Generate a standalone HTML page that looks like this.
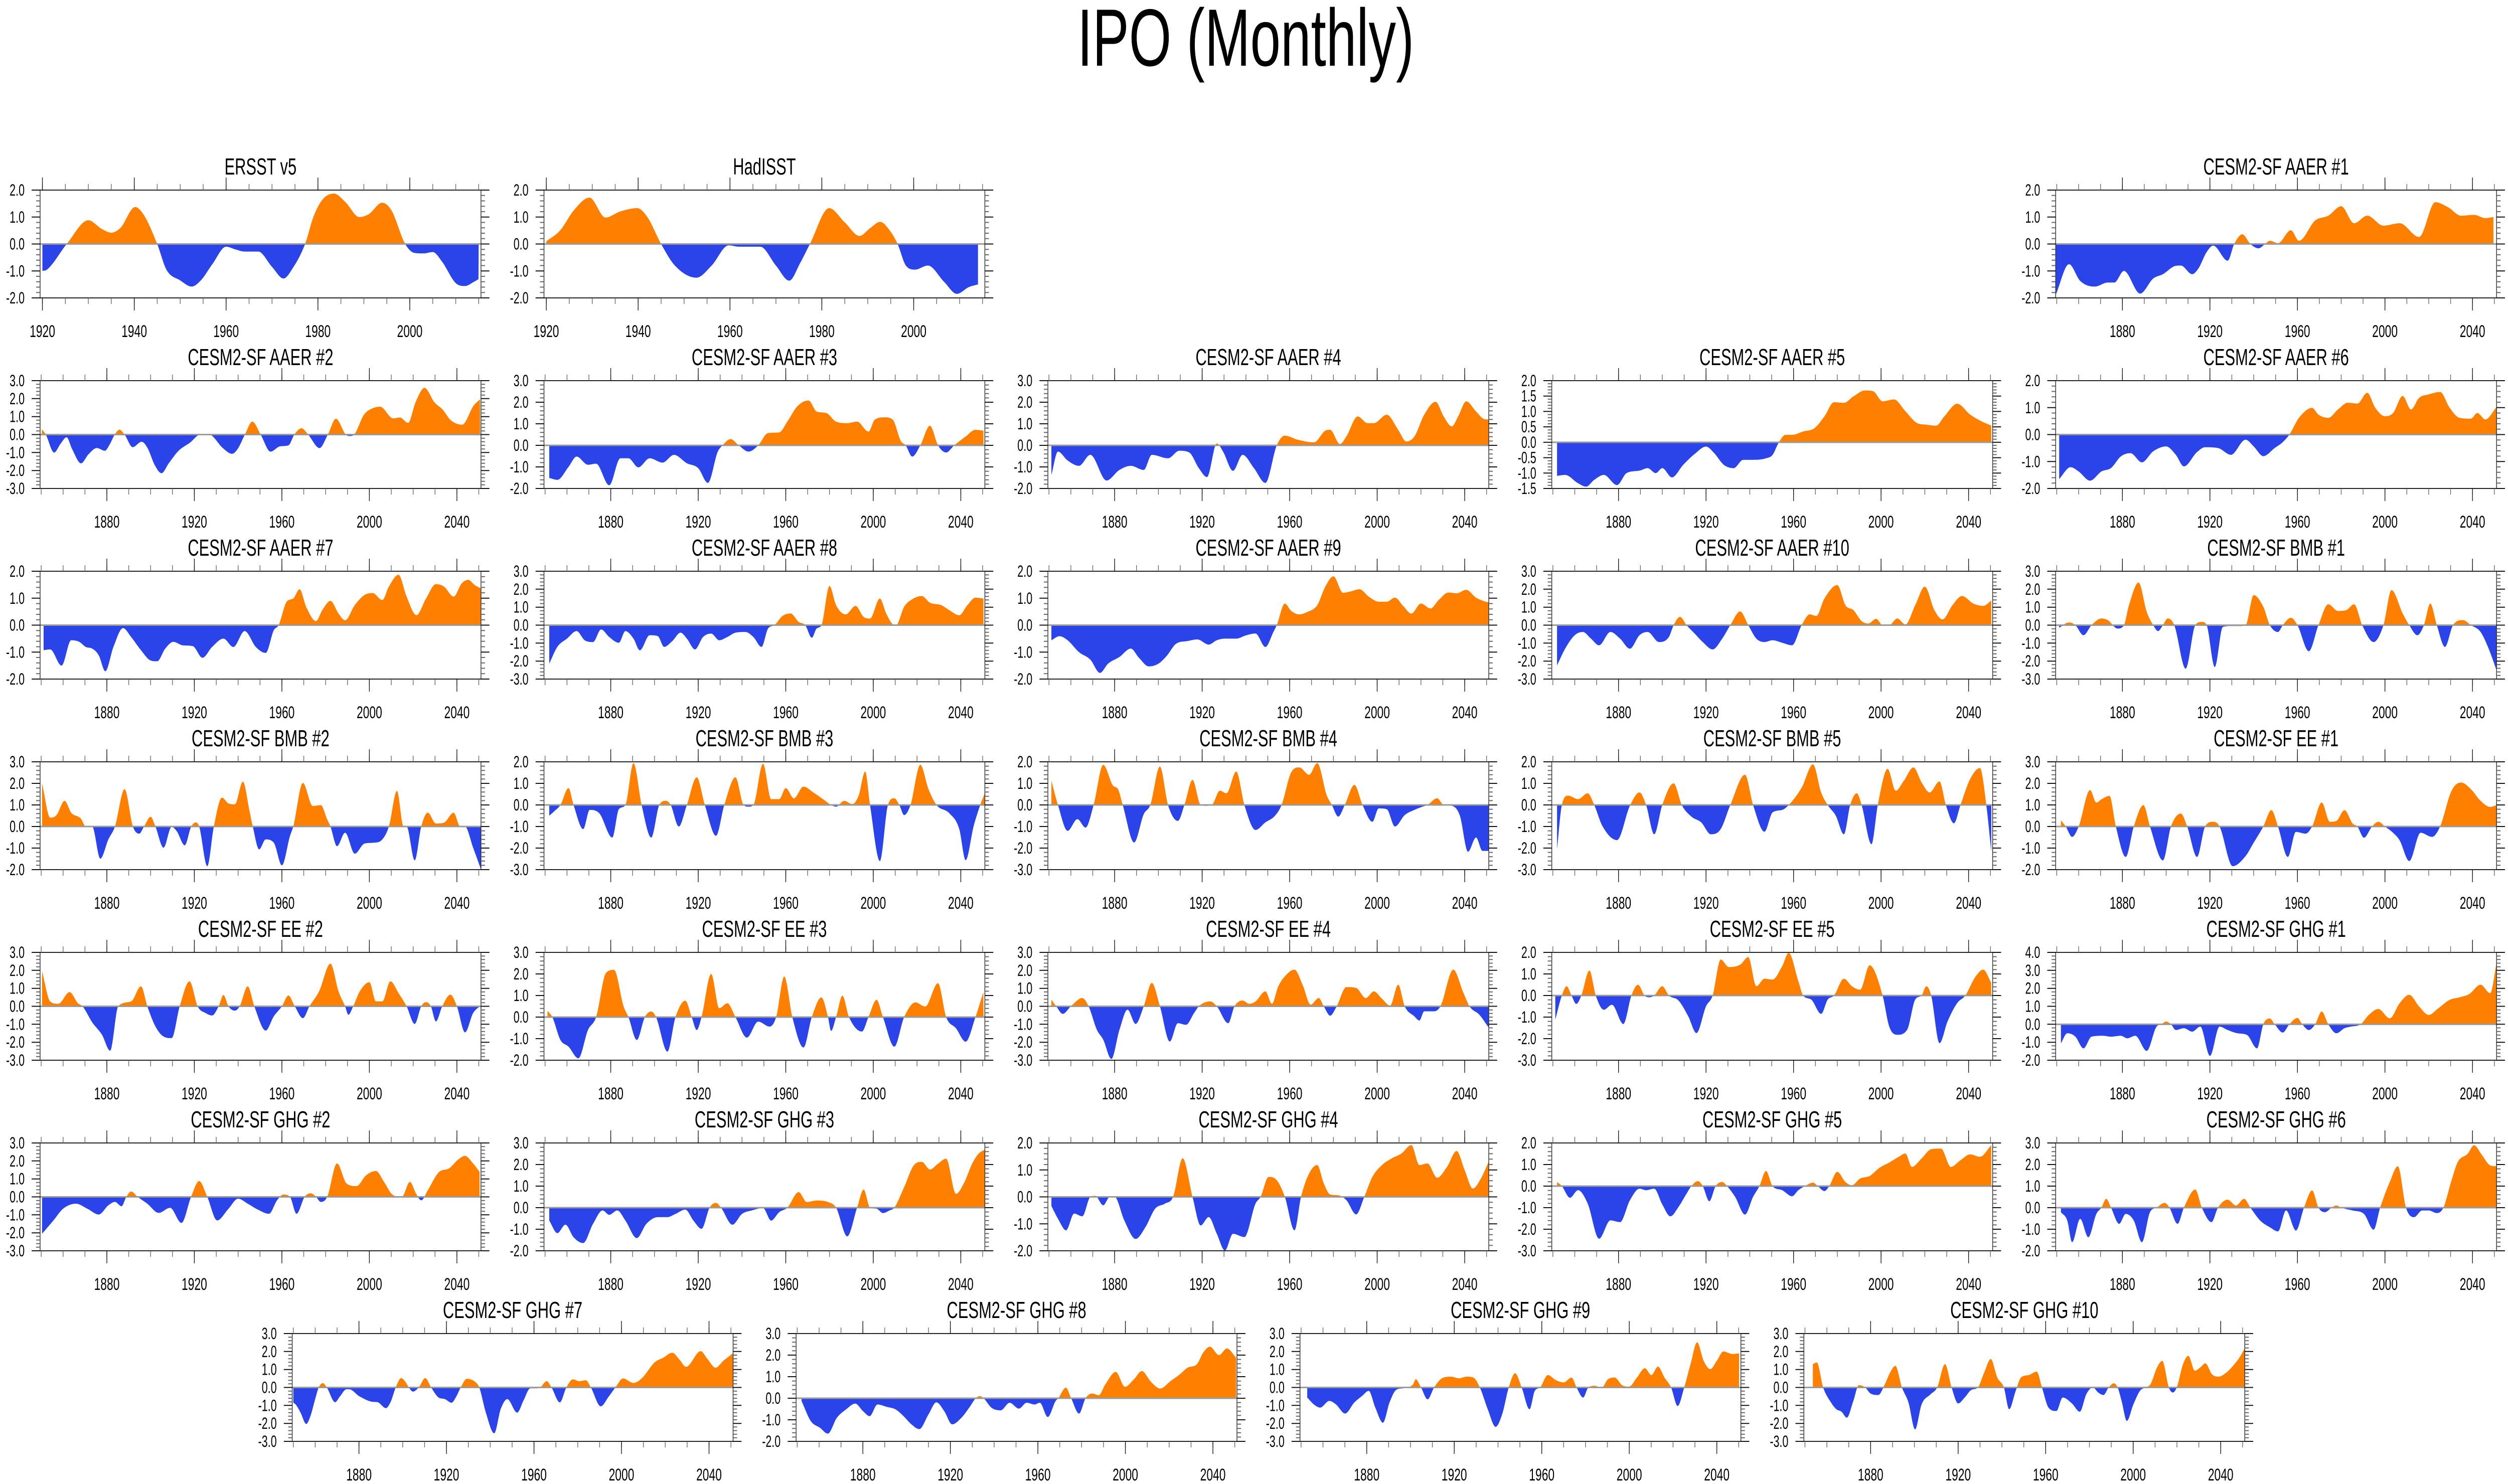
<!DOCTYPE html>
<html>
<head>
<meta charset="utf-8">
<title>IPO (Monthly)</title>
<style>
  html, body { margin: 0; padding: 0; background: #ffffff; overflow: hidden; width: 100%; height: 100%; }
  svg { display: block; width: 100vw; height: 100vh; }
  text { font-family: "Liberation Sans", "DejaVu Sans", sans-serif; fill: #000; }
</style>
</head>
<body>
<svg id="chart" xmlns="http://www.w3.org/2000/svg" viewBox="0 0 7441 2959" preserveAspectRatio="none">
  <rect x="0" y="0" width="7441" height="2959" fill="#ffffff"/>
  <text x="3696" y="131" font-size="162" text-anchor="middle">IPO (Monthly)</text>
</svg>
<script>
// ---------- data (years = knot times, vals = IPO index values) ----------
const ersstYears = [1920,1921,1925.3,1930,1933,1935,1937,1940.2,1942,1945,1947,1950,1952.5,1954.5,1957,1960,1962,1964,1967,1970,1972.5,1974.5,1977.2,1979,1981,1983.5,1986,1989,1991,1994,1996,1999,2001,2003,2005,2007,2010,2012,2014,2015];
const ersstVals = [-1.0,-0.95,0,0.88,0.55,0.42,0.6,1.37,1.1,0,-0.95,-1.35,-1.58,-1.35,-0.75,-0.1,-0.2,-0.28,-0.28,-0.85,-1.28,-0.9,0,1.0,1.65,1.87,1.55,1.0,1.1,1.53,1.25,0,-0.33,-0.35,-0.3,-0.65,-1.45,-1.56,-1.4,-1.3];

const hadYears = [1920,1923,1926,1929.4,1932.9,1936,1939.8,1942,1945,1948,1952.7,1956,1959.7,1962,1966.6,1970,1972.9,1975.3,1977.4,1981.6,1985,1988.2,1990.6,1992.7,1994.8,1996.5,1998.3,2000.3,2003.1,2006.6,2009.4,2012,2014];
const hadVals = [0.1,0.5,1.25,1.72,0.98,1.2,1.33,1.0,0,-0.8,-1.25,-0.8,-0.05,-0.1,-0.1,-0.8,-1.36,-0.7,0,1.33,0.8,0.3,0.6,0.82,0.5,0,-0.8,-0.95,-0.8,-1.4,-1.85,-1.6,-1.5];

const aaer1Years = [1849.6,1855.6,1860.7,1867.4,1873.3,1876.3,1880.7,1888.1,1894.1,1898.5,1904.4,1906.7,1911.9,1914.8,1918.5,1921.5,1928.1,1931.1,1934.8,1938.5,1942.2,1945.2,1947.4,1951.1,1957,1960.7,1968.1,1974.1,1980,1985.9,1991.9,1999.3,2006.7,2015.6,2023,2028.9,2034.8,2040.7,2045.9,2049.6];
const aaer1Vals = [-1.87,-0.75,-1.37,-1.58,-1.43,-1.43,-1.0,-1.84,-1.28,-1.12,-0.81,-0.8,-1.12,-0.9,-0.3,-0.06,-0.62,0,0.36,0,-0.16,0,0.12,0.03,0.51,0.12,0.87,1.05,1.4,0.77,1.05,0.68,0.77,0.26,1.55,1.36,1.05,1.08,0.96,1.0];

const aaer2Years = [1850.3,1852.1,1855.9,1858.9,1861.6,1864.1,1868.2,1871.6,1875.4,1879.1,1881.3,1883.6,1885.8,1888.1,1891.8,1895.9,1898.6,1901.9,1905,1908.3,1912.8,1918,1922.5,1924.8,1927,1933,1937.2,1939.8,1943.1,1946.5,1950.3,1954.8,1959.3,1963,1965.7,1969,1972,1977.2,1981,1984.7,1989.2,1991,1993,1997.5,2000.4,2004.9,2010.9,2013.9,2017.7,2021.1,2025.2,2029.7,2033.4,2037.2,2042.4,2047.6,2050.6];
const aaer2Vals = [0.3,0,-1.0,-0.5,-0.15,-0.8,-1.6,-1.1,-0.75,-0.9,-0.55,0,0.27,0,-0.7,-0.4,-0.75,-1.7,-2.15,-1.6,-0.9,-0.45,0,0.02,0,-0.75,-1.07,-0.8,0,0.72,0,-0.95,-0.65,-0.6,0,0.35,0,-0.75,0,0.88,0,-0.08,0,1.1,1.4,1.55,0.9,0.95,0.65,1.8,2.6,1.8,1.4,0.8,0.55,1.6,1.97];

const aaer3Years = [1851.9,1855.6,1860.7,1864.4,1869.6,1873.3,1879.3,1884.4,1888.1,1892.6,1897.8,1903.7,1908.9,1914.8,1920,1924.4,1928.9,1931.1,1934.8,1938.5,1943,1947.4,1951.9,1957,1960.7,1965.2,1970.4,1974.1,1978.5,1983,1988.1,1992.6,1997.8,2000.7,2005.2,2008.9,2012.6,2014.8,2017.8,2021.5,2025.9,2029.6,2033.3,2037,2042.2,2046.7,2050.4];
const aaer3Vals = [-1.51,-1.6,-1.0,-0.52,-0.9,-0.85,-1.85,-0.6,-0.6,-1.02,-0.6,-0.8,-0.44,-0.83,-1.06,-1.74,-0.3,0,0.29,0,-0.29,0,0.57,0.6,1.1,1.8,2.08,1.57,1.5,1.1,1.03,1.1,0.64,1.19,1.3,1.19,0.2,0,-0.52,0,0.91,0,-0.33,0,0.41,0.72,0.68];

const aaer4Years = [1851.1,1854.1,1858.5,1863.7,1868.9,1876.3,1882.2,1887.4,1893.3,1897,1904.4,1909.6,1914.1,1918.5,1922.2,1926.7,1929.6,1934.1,1938.5,1943.7,1948.9,1954.1,1957.8,1963.7,1971.1,1976.3,1978.5,1983,1985.9,1991.1,1995.6,1998.5,2004.4,2009.6,2013.3,2017,2021.5,2026.7,2030.4,2034.1,2037,2040.7,2045.2,2048.9,2051];
const aaer4Vals = [-1.37,-0.29,-0.7,-0.95,-0.44,-1.63,-1.14,-0.95,-1.14,-0.44,-0.6,-0.25,-0.33,-1.06,-1.47,0.09,-0.3,-1.18,-0.44,-1.06,-1.74,0,0.45,0.26,0.14,0.68,0.72,0.06,0.41,1.34,1.03,1.03,1.42,0.72,0.18,0.41,1.42,2.02,1.34,0.88,1.34,2.04,1.57,1.22,1.2];

const aaer5Years = [1851.9,1855.6,1861.5,1865.2,1868.9,1873.3,1879.3,1883.7,1889.6,1893.3,1897,1900,1904.4,1909.6,1914.8,1920,1923.7,1928.1,1932.6,1937,1941.5,1947.4,1950.4,1953.3,1956.3,1959.3,1964.4,1969.6,1974.1,1978.5,1983,1987.4,1992.6,1996.3,2000.7,2005.9,2011.1,2016.3,2020.7,2025.2,2028.9,2034.8,2040.7,2045.9,2050.4];
const aaer5Vals = [-1.09,-1.06,-1.33,-1.44,-1.22,-1.06,-1.39,-1.0,-0.92,-0.84,-1.0,-0.84,-1.14,-0.73,-0.38,-0.14,-0.35,-0.73,-0.84,-0.57,-0.57,-0.52,-0.41,0,0.24,0.24,0.35,0.46,0.84,1.3,1.28,1.49,1.68,1.66,1.33,1.39,1.01,0.63,0.57,0.54,0.84,1.25,0.9,0.68,0.54];

const aaer6Years = [1851.1,1856.3,1860,1865.2,1870.4,1874.8,1879.3,1883.7,1888.9,1894.1,1900,1904.4,1908.1,1914.1,1917.8,1923.7,1929.6,1936.3,1940,1944.4,1949.6,1953.3,1956.3,1960.7,1966.7,1969.6,1974.1,1978.5,1983,1987.4,1991.9,1995.6,2000,2003.7,2008.1,2011.9,2015.6,2020,2025.2,2029.6,2034.1,2039.3,2042.2,2045.9,2051];
const aaer6Vals = [-1.65,-1.21,-1.37,-1.71,-1.37,-1.24,-0.81,-0.69,-1.03,-0.62,-0.44,-0.75,-1.18,-0.65,-0.47,-0.5,-0.75,-0.19,-0.44,-0.8,-0.5,-0.28,0,0.62,0.99,0.74,0.62,0.93,1.18,1.15,1.55,0.99,0.68,0.8,1.43,0.93,1.36,1.49,1.58,0.99,0.62,0.59,0.8,0.56,1.02];

const aaer7Years = [1851.1,1854.1,1859.3,1863.7,1867.4,1870.4,1873.3,1876.3,1879.3,1883,1887.4,1891.1,1895.6,1900,1903,1906.7,1910.4,1914.8,1919.3,1923.7,1928.1,1933.3,1937.8,1943,1948.1,1952.6,1956.3,1958.5,1962.2,1965.2,1968.1,1971.1,1975.6,1978.5,1982.2,1985.9,1988.9,1993.3,1997.8,2001.5,2005.9,2008.9,2013.3,2017,2021.5,2025.9,2030.4,2034.1,2038.5,2042.2,2045.2,2048.1,2051];
const aaer7Vals = [-0.93,-0.9,-1.5,-0.56,-0.62,-0.81,-0.87,-1.12,-1.71,-0.81,-0.11,-0.44,-0.93,-1.31,-1.34,-0.87,-0.62,-0.75,-0.78,-1.21,-0.81,-0.5,-0.81,-0.22,-0.81,-1.03,-0.19,0,0.87,0.99,1.33,0.68,0.15,0.56,0.9,0.43,0.18,0.74,1.12,1.19,0.93,1.43,1.87,1.06,0.37,0.99,1.52,1.43,1.06,1.55,1.68,1.49,1.36];

const aaer8Years = [1851.9,1855.6,1860,1864.4,1868.1,1871.9,1875.6,1879.3,1883.7,1886.7,1890.4,1893.3,1897.8,1901.5,1904.4,1908.1,1911.9,1914.8,1918.5,1922.2,1925.9,1929.6,1933.3,1937,1941.5,1945.2,1948.9,1951.9,1954.8,1958.5,1962.2,1965.9,1968.9,1971.9,1974.1,1976.3,1980,1983,1987.4,1991.9,1995.6,1998.5,2003,2005.9,2008.9,2010.4,2014.1,2017.8,2022.2,2025.9,2031.1,2034.8,2039.3,2043,2046.7,2050.4];
const aaer8Vals = [-2.14,-1.21,-0.75,-0.33,-0.84,-0.94,-0.24,-0.66,-0.98,-0.33,-0.75,-1.4,-0.56,-0.61,-1.21,-0.89,-0.42,-0.75,-1.35,-0.66,-0.47,-0.84,-0.66,-0.42,-0.38,-0.66,-1.21,-0.19,0,0.51,0.65,0.18,0,-0.7,-0.19,0,2.18,1.11,0.6,1.07,0.46,0.37,1.48,0.65,0.05,0,1.02,1.44,1.62,1.25,1.11,0.83,0.55,1.11,1.53,1.48];

const aaer9Years = [1851.1,1854.8,1858.5,1863.7,1868.9,1873.3,1877,1882.2,1887.4,1891.1,1895.6,1900,1903.7,1908.1,1913.3,1917.8,1923,1926.7,1930.4,1935.6,1940,1944.4,1948.9,1952.6,1954.1,1957.8,1960.7,1964.4,1968.1,1972.6,1976.3,1980,1984.4,1987.4,1991.9,1996.3,2000.7,2004.4,2008.1,2011.9,2015.6,2020,2024.4,2028.1,2032.6,2036.3,2040.7,2045.2,2049.6,2051];
const aaer9Vals = [-0.56,-0.41,-0.56,-1.0,-1.28,-1.77,-1.43,-1.18,-0.87,-1.21,-1.53,-1.43,-1.15,-0.69,-0.59,-0.53,-0.72,-0.56,-0.5,-0.5,-0.38,-0.31,-0.81,-0.25,0,0.8,0.53,0.4,0.49,0.74,1.43,1.81,1.2,1.24,1.33,1.05,0.87,0.87,1.02,0.71,0.43,0.8,0.62,0.93,1.21,1.18,1.31,1.02,0.87,0.85];

const aaer10Years = [1851.9,1855.6,1860,1863.7,1867.4,1871.1,1876.3,1880.7,1885.2,1889.6,1893.3,1898.5,1903,1905.2,1908.1,1911.1,1914.8,1918.5,1923,1927.4,1931.1,1935.6,1939.3,1943,1946.7,1950.4,1954.8,1959.3,1963.7,1967.4,1970.4,1974.1,1980,1983.7,1987.4,1991.1,1994.1,1997.8,2000.7,2003.7,2007.4,2011.1,2015.6,2020,2024.4,2028.1,2032.6,2037,2042.2,2046.7,2050.4];
const aaer10Vals = [-2.24,-1.31,-0.56,-0.38,-0.75,-1.12,-0.38,-0.75,-1.31,-0.56,-0.38,-0.94,-0.66,0,0.46,0,-0.47,-0.94,-1.35,-0.75,0,0.76,0,-0.75,-0.94,-0.84,-0.98,-1.12,0,0.6,0.51,1.48,2.23,1.11,0.83,0.23,0.09,0.35,0,0,0.37,0.04,1.11,2.14,0.83,0.32,1.11,1.62,1.2,1.07,1.37];

const bmb1Years = [1851.1,1855.6,1858.5,1862.2,1865.9,1870.4,1873.3,1877.8,1880.7,1883,1887.4,1891.1,1894.1,1896.3,1898.5,1900.7,1903.7,1908.9,1913.3,1916.3,1918.5,1922.2,1925.9,1929.6,1933.3,1936.3,1940,1944.4,1947.4,1951.1,1953.3,1957,1960,1965.2,1969.6,1974.1,1978.5,1982.2,1985.9,1989.6,1994.8,1999.3,2003,2008.1,2011.1,2014.8,2017.8,2020.7,2023.7,2027.4,2031.1,2035.6,2039.3,2043.7,2047.4,2051];
const bmb1Vals = [-0.14,0.15,0,-0.56,0,0.37,0.28,-0.19,0,1.11,2.37,0.74,0,-0.33,0,0.37,0,-2.42,0,0.18,0,-2.33,-0.1,-0.05,-0.05,0,1.67,1.02,0,-0.38,0,0.41,0,-1.45,0,1.16,0.79,0.83,1.16,0,-0.94,0,1.95,0.65,0,-0.56,0,1.2,0,-1.21,0,0.28,0,-0.38,-1.31,-2.51];

const bmb2Years = [1850.4,1854.1,1857,1860.7,1863.7,1868.1,1870.4,1873.3,1877,1880.7,1883.7,1888.1,1891.9,1894.8,1897,1900,1902.2,1905.9,1909.6,1911.9,1915.6,1918.5,1920.7,1922.2,1925.9,1928.9,1932.6,1935.6,1938.5,1942.2,1945.2,1946.7,1949.6,1952.6,1956.3,1960,1963.7,1965.2,1969.6,1974.1,1977.8,1980.7,1982.2,1985.2,1988.9,1993.3,1997.8,2002.2,2005.9,2008.9,2012.6,2015.6,2017,2020.7,2023.7,2026.7,2030.4,2034.1,2038.5,2041.5,2043.7,2047.4,2051];
const bmb2Vals = [2.0,0.41,0.53,1.19,0.64,0.37,0,0,-1.49,-0.6,0,1.73,0,-0.33,0,0.45,0,-0.98,-0.02,-0.21,-0.87,-0.02,0.19,0,-1.84,0,1.34,1.07,1.03,2.08,0.72,0,-1.06,-0.6,-0.75,-1.8,-0.44,0,2.02,0.95,0.99,0.33,0,-0.91,-0.29,-1.26,-0.79,-0.75,-0.6,0,1.65,0,0,-1.57,0,0.64,0.14,0.18,0.64,0,0,-0.98,-1.99];

const bmb3Years = [1851.9,1854.1,1857,1860.7,1863,1867.4,1870.4,1874.8,1880.7,1883.7,1886.7,1890.4,1894.1,1898.5,1902.2,1905.2,1907.4,1911.1,1914.8,1919.3,1923,1928.1,1931.9,1937,1940.7,1943,1945.2,1949.6,1953.3,1957,1960,1963.7,1968.1,1972.6,1977,1980.7,1983,1986.7,1990.4,1993.3,1996.3,1998.5,2003,2006.7,2009.6,2011.9,2014.1,2017,2021.5,2025.2,2028.9,2034.8,2039.3,2042.2,2045.9,2048.9,2051.1];
const bmb3Vals = [-0.5,-0.3,0,0.78,0,-1.12,-0.23,-0.39,-1.51,-0.2,0,1.94,0,-1.51,0,0.19,0,-1.0,0,1.28,0,-1.43,0,1.28,0,-0.08,0,1.91,0.27,0.27,0.78,0.31,0.85,0.58,0.27,0,-0.08,0.19,0.04,0.43,1.55,0,-2.6,0,0.31,0,-0.47,0,1.86,0.74,0,-0.39,-1.12,-2.56,-0.97,0,0.58];

const bmb4Years = [1851.1,1854.1,1858.5,1863,1866.7,1870.4,1874.8,1879.3,1881.5,1883.7,1888.9,1893.3,1896.3,1900.7,1904.4,1908.9,1911.9,1915.6,1919.3,1921.5,1924.4,1928.1,1931.1,1935.6,1939.3,1944.4,1948.9,1953.3,1956.3,1960.7,1964.4,1968.9,1972.6,1977,1979.3,1982.2,1985.2,1989.6,1993.3,1997.8,2000.7,2004.4,2008.1,2012.6,2017,2020.7,2023,2027.4,2030.4,2034.1,2037.8,2041.5,2045.2,2048.1,2051];
const bmb4Vals = [1.12,0,-1.2,-0.66,-1.05,0,1.86,0.89,0.74,0,-1.74,-0.43,0,1.78,0,-0.74,0,1.16,0,-0.04,0,0.66,0.54,1.55,0,-1.16,-0.81,-0.5,0,1.51,1.74,1.4,1.94,0.43,0,-0.54,0,0.93,0,-0.78,-0.16,-0.2,-1.0,-0.47,-0.23,-0.08,0,0.31,0,-0.04,-0.5,-2.17,-1.51,-2.13,-2.13];

const bmb5Years = [1851.9,1854.1,1857,1861.5,1865.9,1868.9,1872.6,1879.3,1885.2,1889.6,1892.6,1896.3,1900,1905.2,1908.9,1913.3,1917.8,1922.2,1926.7,1931.1,1937.8,1941.5,1946.7,1950.4,1954.8,1957.8,1963.7,1968.9,1972.6,1975.6,1979.3,1983,1985.9,1988.9,1991.1,1995.6,1998.5,2003,2006.7,2010.4,2014.8,2018.5,2022.2,2026.7,2029.6,2033.3,2036.3,2040.7,2045.2,2048.1,2050.4];
const bmb5Vals = [-2.05,0,0.43,0.27,0.54,0,-0.97,-1.63,-0.04,0.58,0,-1.36,0,1.0,0,-0.54,-0.81,-1.36,-1.12,0,1.4,0,-1.24,-0.35,-0.23,0,0.8,1.88,0.58,0,-0.5,-1.36,0,0.54,0,-1.82,0,1.67,0.66,1.12,1.74,1.05,0.58,1.09,0,-0.85,0,1.2,1.71,0,-2.2];

const ee1Years = [1851.9,1854.1,1857,1860,1865.2,1868.1,1870.4,1874.1,1877,1881.5,1885.2,1889.6,1892.6,1898.5,1902.2,1906.7,1909.6,1914.1,1917.8,1921.5,1924.4,1930.4,1936.3,1940,1944.4,1948.1,1951.1,1955.6,1959.3,1963.7,1966.7,1971.1,1974.8,1977.8,1981.5,1985.2,1987.4,1990.4,1994.1,1997,2000,2003.7,2006.7,2011.1,2016.3,2021.5,2025.2,2030.4,2034.8,2039.3,2043.7,2048.1,2051];
const ee1Vals = [0.29,0,-0.48,0,1.69,1.11,1.26,1.42,0,-1.41,0,0.99,0,-1.57,0,0.6,0,-1.41,0,0.22,0,-1.84,-1.37,-0.75,0,0.76,0,-1.41,-0.25,-0.33,0,1.11,0.22,0.26,0.76,0.14,0,-0.52,0,0.22,0,-0.29,-0.64,-1.6,-0.29,-0.48,0,1.65,2.04,1.73,1.19,0.91,0.99];

const ee2Years = [1850.4,1854.1,1857.8,1863,1866.7,1868.9,1873.3,1877.8,1881.5,1885.2,1891.1,1895.6,1898.5,1902.2,1905.9,1909.6,1913.3,1917.8,1921.5,1925.2,1928.1,1931.1,1933.3,1935.6,1938.5,1940.7,1944.4,1947.4,1952.6,1956.3,1960,1963,1965.9,1969.6,1972.6,1977,1982.2,1985.9,1988.9,1990.4,1992.6,1995.6,2000,2003,2005.9,2009.6,2013.3,2017,2020.7,2023.7,2025.9,2028.1,2030.4,2033.3,2037,2040,2043.7,2047.4,2050.4];
const ee2Vals = [1.95,0.27,0.14,0.79,0.18,0,-0.89,-1.59,-2.47,0,0.27,1.11,0,-1.12,-1.68,-1.77,0,1.39,0,-0.38,-0.51,0,0.63,0,-0.24,0,1.11,0,-1.35,-0.56,0,0.6,0,-0.66,0,0.83,2.37,0.83,0,-0.47,0,0.83,1.34,0.27,0.27,1.39,0.74,0,-0.98,0,0.23,0,-0.84,0,0.65,0,-1.45,-0.38,0];

const ee3Years = [1851.1,1853.3,1857,1860.7,1865.2,1869.6,1873.3,1877.8,1881.5,1885.9,1888.1,1891.9,1895.6,1898.5,1900.7,1905.9,1909.6,1914.1,1917,1919.3,1921.5,1925.9,1929.6,1933.3,1937,1942.2,1947.4,1952.6,1955.6,1959.3,1963,1968.1,1971.9,1976.3,1979.3,1980.7,1983,1985.9,1988.9,1994.8,1997.8,2001.5,2004.4,2009.6,2014.1,2019.3,2023.7,2029.6,2033.3,2037.8,2042.2,2046.7,2050.4];
const ee3Vals = [0.29,0,-1.06,-1.37,-1.91,-0.6,0,2.04,2.19,0.49,0,-1.06,0,0.26,0,-1.6,0,0.76,0,-0.6,0,2.0,0.41,0.64,0,-0.95,-0.21,-0.44,0,1.88,0,-1.41,0,0.91,0,-0.64,0,0.99,0,-0.67,0,0.8,0,-1.37,0,0.68,0.49,1.57,0,-0.52,-1.14,0,1.19];

const ee4Years = [1851.1,1853.3,1856.3,1860,1865.2,1868.1,1871.9,1874.8,1878.5,1882.2,1885.9,1889.6,1893.3,1897,1900.7,1905.2,1908.9,1912.6,1916.3,1918.5,1923.7,1926.7,1931.9,1934.8,1938.5,1941.5,1944.4,1948.9,1951.9,1954.8,1958.5,1962.2,1965.9,1969.6,1973.3,1975.6,1978.5,1981.5,1985.9,1990.4,1994.8,1998.5,2002.2,2005.9,2009.6,2012.6,2017,2019.3,2021.5,2025.9,2028.9,2034.8,2039.3,2042.2,2046.7,2051.1];
const ee4Vals = [0.37,0,-0.42,0,0.46,0,-1.31,-1.86,-2.93,-1.31,-0.19,-0.98,0,1.3,0,-1.96,-0.94,-1.03,-0.38,0,0.27,0,-0.94,0,0.32,0.14,0.27,0.83,0.14,1.11,1.76,2.04,1.2,0.09,0.46,0,-0.52,0,1.07,1.02,0.46,0.83,0.42,0.04,1.2,0,-0.56,-0.79,-0.28,-0.28,0,2.04,0.79,0,-0.47,-1.21];

const ee5Years = [1851.1,1854.1,1856.3,1858.5,1860.7,1863,1866.7,1869.6,1873.3,1877,1882.2,1885.9,1888.9,1891.9,1894.1,1896.3,1900,1903,1907.4,1911.9,1915.6,1920,1923,1926.7,1930.4,1935.6,1939.3,1943,1946.7,1950.4,1954.8,1957.8,1962.2,1964.4,1968.1,1972.6,1975.6,1978.5,1983,1986.7,1990.4,1994.8,2000.7,2003.7,2007.4,2011.9,2015.6,2018.5,2020.7,2022.9,2026.7,2030.4,2034.8,2038.5,2043,2046.7,2050.4];
const ee5Vals = [-1.12,0,0.43,0,-0.39,0,1.16,0,-0.66,-0.43,-1.32,0,0.5,0,-0.08,0,0.43,0,-0.23,-0.97,-1.74,-0.5,0,1.67,1.32,1.43,1.78,0.43,0.78,0.74,1.36,1.98,0.66,0,-0.19,-0.85,-0.19,0,0.78,0.43,0.27,1.4,0,-1.43,-1.82,-1.59,-0.19,0,0.43,0,-2.21,-1.2,-0.35,0,0.85,1.2,0.58];

const ghg1Years = [1851.9,1854.8,1858.5,1862.2,1865.9,1871.1,1874.8,1879.3,1882.2,1885.9,1891.1,1895.6,1897.8,1900,1902.2,1904.4,1908.1,1911.9,1915.6,1920,1924.4,1928.1,1932.6,1937,1941.5,1944.4,1947.4,1949.6,1953.3,1956.3,1960,1962.2,1965.2,1968.1,1971.1,1974.1,1977.8,1981.5,1984.4,1988.9,1992.6,1997,2002.2,2006.7,2011.1,2015.6,2020,2024.4,2029.6,2034.1,2038.5,2043.7,2048.1,2051];
const ghg1Vals = [-1.06,-0.5,-0.69,-1.34,-0.69,-0.64,-0.69,-0.64,-0.78,-0.64,-1.48,-0.13,0,0.15,0,-0.32,-0.22,-0.41,-0.13,-1.76,-0.13,-0.32,-0.5,-0.6,-1.34,0,0.32,0,-0.46,0,0.35,0,-0.32,0,0.71,0,-0.5,-0.22,-0.13,0,0.52,0.85,0.33,1.17,1.64,0.99,0.52,0.89,1.36,1.5,1.68,2.2,1.73,3.4];

const ghg2Years = [1850.4,1855.6,1860,1865.9,1871.1,1876.3,1880.7,1883.7,1886.7,1888.9,1891.1,1894.1,1898.5,1903.7,1908.9,1914.1,1918.5,1922.2,1925.9,1930.4,1935.6,1940,1944.4,1948.9,1954.1,1957.8,1960.7,1963.7,1966.7,1970.4,1973.3,1975.6,1977.8,1980.7,1985.2,1989.6,1994.1,1998.5,2003,2006.7,2010.4,2014.8,2018.5,2021.5,2023.7,2026.7,2031.9,2036.3,2040.7,2043.7,2047.4,2050.4];
const ghg2Vals = [-2.05,-1.31,-0.66,-0.38,-0.66,-0.98,-0.47,-0.28,-0.52,0,0.3,0,-0.38,-0.89,-0.61,-1.45,0,0.88,0,-1.31,-0.66,-0.1,-0.38,-0.7,-0.94,-0.19,0.13,0,-0.94,0,0.2,0,-0.28,0,1.86,0.74,0.6,1.2,1.44,0.83,0.14,0,0.83,0.14,-0.19,0.37,1.39,1.58,2.09,2.28,1.86,1.39];

const ghg3Years = [1851.9,1855.6,1859.3,1863,1867.4,1871.9,1876.3,1879.3,1883,1886.7,1891.9,1896.3,1901.5,1905.9,1909.6,1914.1,1917.8,1921.5,1925.2,1928.1,1930.4,1935.6,1940,1944.4,1949.6,1953.3,1957,1960.7,1965.9,1969.6,1974.1,1979.3,1983,1988.1,1992.6,1995.6,1998.5,2001.5,2004.4,2007.4,2009.6,2014.1,2018.5,2022.2,2025.9,2029.6,2033.3,2037.8,2041.5,2045.2,2048.1,2051.1];
const ghg3Vals = [-0.6,-1.18,-0.79,-1.37,-1.64,-0.75,-0.13,-0.33,-0.13,-0.6,-1.41,-0.75,-0.44,-0.44,-0.29,-0.09,-0.6,-0.98,0,0.22,0,-0.79,-0.29,-0.13,-0.02,-0.6,-0.21,0,0.72,0.26,0.33,0.26,0,-1.33,0,0.84,0,-0.05,-0.25,-0.13,0,0.95,1.96,2.12,1.77,2.04,2.27,0.64,1.15,2.04,2.5,2.7];

const ghg4Years = [1851.1,1854.1,1857.8,1861.5,1865.2,1868.9,1871.1,1874.8,1877.8,1880,1884.4,1889.6,1894.1,1898.5,1903,1906.7,1911.1,1915.6,1919.3,1923,1926.7,1930.4,1934.1,1939.3,1944.4,1946.7,1950.4,1954.1,1957.8,1962.2,1965.2,1968.9,1972.6,1975.6,1978.5,1982.2,1985.9,1990.4,1994.1,1997.8,2002.2,2006.7,2011.1,2015.6,2019.3,2023,2027.4,2031.9,2036.3,2040,2043.7,2047.4,2051.1];
const ghg4Vals = [-0.34,-0.81,-1.24,-0.62,-0.72,0,0.04,-0.31,0,0,-0.87,-1.56,-1.12,-0.44,-0.25,0,1.43,0,-1.06,-0.75,-1.37,-1.99,-1.37,-1.49,-0.25,0,0.74,0.62,0,-1.24,0,0.87,1.18,0.5,0.09,0.06,-0.12,-0.65,0,0.74,1.18,1.43,1.61,1.92,1.18,1.24,0.71,1.11,1.7,0.99,0.31,0.68,1.33];

const ghg5Years = [1851.9,1854.1,1857.8,1861.5,1865.9,1871.1,1876.3,1880.7,1885.2,1889.6,1892.6,1896.3,1900,1903.7,1907.4,1911.1,1913.3,1916.3,1918.5,1921.5,1924.4,1927.4,1929.6,1933.3,1937.8,1941.5,1944.4,1947.4,1950.4,1954.8,1959.3,1962.2,1965.2,1968.9,1971.1,1974.1,1976.3,1980,1983.7,1986.7,1990.4,1994.8,1999.3,2003.7,2008.1,2011.1,2014.1,2018.5,2022.9,2027.4,2031.9,2036.3,2040.7,2045.2,2050.4];
const ghg5Vals = [0.19,0,-0.54,-0.19,-0.81,-2.44,-1.59,-1.67,-0.66,-0.12,-0.19,-0.12,-0.85,-1.4,-0.97,-0.35,0,0.23,0,-0.7,0,0.19,0,-0.5,-1.32,-0.5,0,0.7,0,-0.19,-0.47,-0.19,0,0.16,0,-0.23,0,0.66,0.19,0.04,0.35,0.47,0.85,1.09,1.36,1.51,0.89,1.28,1.71,1.74,0.89,1.2,1.47,1.36,1.9];

const ghg6Years = [1851.9,1854.8,1857,1860.7,1864.4,1868.1,1870.4,1872.6,1874.8,1878.5,1881.5,1885.2,1888.9,1892.6,1895.6,1899.3,1901.5,1905.2,1908.1,1913.3,1916.3,1920.7,1923.7,1928.1,1931.9,1935.6,1938.5,1943,1947.4,1951.1,1954.8,1959.3,1963,1966.7,1969.6,1972.6,1975.6,1977.8,1980,1985.2,1990.4,1994.8,1997.8,2002.2,2005.9,2009.6,2013.3,2017,2020,2023.7,2026.7,2030.4,2033.3,2037.8,2040.7,2044.4,2048.1,2051];
const ghg6Vals = [-0.21,-0.6,-1.6,-0.52,-1.37,-0.29,0,0.41,0,-0.75,-0.29,-0.6,-1.6,-0.21,0,0.22,0,-0.75,0,0.84,0,-0.67,0,0.37,0.1,0.41,0,-0.6,-0.91,-1.1,-0.13,-1.06,0,0.8,0,-0.21,0,0.1,0,-0.13,-0.29,-1.02,0,1.19,1.92,0,-0.44,-0.13,-0.13,-0.25,0,1.26,2.12,2.5,2.89,2.43,1.96,1.92];

const ghg7Years = [1850,1851.1,1853.3,1855.9,1857.8,1860.1,1861.6,1863.5,1865.3,1869.1,1871.3,1874.3,1875.5,1880.3,1886.3,1888.5,1892.3,1894.5,1896.8,1899.3,1901.3,1902.8,1904.7,1907.3,1910.3,1913,1916.3,1919.3,1922.3,1924.5,1926.5,1929.3,1933.5,1935,1938,1941.8,1944.8,1947.8,1952.3,1955.3,1958.3,1960.5,1962.8,1965.8,1968,1971.8,1974.8,1977.8,1980.7,1983.7,1986,1990.5,1994.2,1997.2,2000.7,2005.5,2009.2,2015.2,2019,2023.2,2026.5,2029.5,2036.2,2039.2,2043,2046.7,2050.9];
const ghg7Vals = [-0.85,-0.95,-1.4,-2.03,-1.6,-0.6,0,0.24,0,-0.82,-0.5,-0.1,-0.1,-0.5,-0.8,-0.82,-1.15,-0.8,0,0.52,0.3,0,-0.23,0,0.52,0,-0.55,-0.65,-0.85,-0.5,0,0.48,0.27,0,-1.4,-2.55,-1.2,-0.65,-1.4,-0.7,-0.05,-0.05,0,0.35,0,-0.83,0,0.45,0.35,0.4,0,-1.05,-0.5,0,0.5,0.25,0.5,1.4,1.65,1.93,1.55,1.15,2.02,1.6,1.1,1.5,1.9];

const ghg8Years = [1852,1856.2,1860.4,1864,1868.1,1872.3,1876.5,1880.1,1883.1,1886.7,1890.9,1895,1898.6,1902.2,1905.8,1910,1913.6,1917.2,1920.8,1925,1928.6,1931.6,1933.4,1935.2,1938.8,1943,1947.1,1951.3,1954.9,1958.5,1960.9,1964.5,1968.1,1969.3,1972.8,1975.2,1978.8,1981.8,1984.8,1987.8,1990.8,1995.6,1999.8,2003.9,2007.5,2011.7,2015.9,2020.7,2024.9,2028.5,2032.6,2035.6,2038.6,2042.8,2046.4,2050.6];
const ghg8Vals = [-0.13,-1.06,-1.37,-1.64,-0.91,-0.52,-0.25,-0.6,-0.83,-0.29,-0.4,-0.52,-0.83,-1.21,-1.43,-0.75,-0.19,-0.6,-1.21,-0.91,-0.44,0,0.1,0,-0.44,-0.56,-0.21,-0.48,-0.21,-0.29,-0.21,-0.87,-0.13,0,0.49,0,-0.71,0,0.22,0.14,0.64,1.22,0.53,0.88,1.26,0.76,0.45,0.8,1.11,1.42,1.57,2.12,2.39,2.0,2.31,1.88];

const ghg9Years = [1852.8,1855.8,1858.7,1862.9,1865.9,1870.1,1874.3,1877.9,1880.9,1883.9,1887.4,1890.4,1893.4,1896.4,1898.8,1901.2,1902.4,1904.8,1907.8,1910.8,1914.4,1918.6,1922.1,1925.7,1928.7,1931.7,1935.3,1938.9,1941.9,1944.9,1947.8,1950.8,1954.4,1956.8,1959.2,1962.8,1966.4,1970,1973.6,1975.9,1978.9,1981.3,1984.3,1987.3,1990.3,1993.3,1996.9,1999.9,2003.5,2007.1,2010.1,2013.1,2016.1,2019.1,2022.1,2025.1,2028,2031,2034,2037,2040,2043,2047.2,2050.2];
const ghg9Vals = [-0.56,-0.94,-1.12,-0.75,-0.94,-1.45,-0.84,-0.47,-0.19,-1.12,-1.96,-0.84,-0.14,-0.05,0,0.18,0.46,0,-0.66,0,0.51,0.6,0.51,0.6,0.55,0,-1.21,-2.19,-1.49,0,0.79,0,-1.21,-0.19,0,0.69,0.41,0.28,0.55,0,-0.56,0,0.09,-0.02,0.46,0.55,0.11,0.05,0.55,1.07,0.69,1.16,0.55,0,-1.03,0,1.3,2.51,1.48,1.02,1.48,2.0,1.86,1.9];

const ghg10Years = [1853.6,1855.4,1858.3,1861.9,1864.3,1866.7,1869.1,1872.1,1874.6,1877.5,1879.9,1883.5,1886.5,1888.9,1891.3,1894.3,1897.3,1900.3,1903.3,1907.4,1910.4,1914,1917,1920,1923,1926,1929,1931.9,1934.9,1937.9,1940.9,1943.3,1946.3,1948.7,1952.3,1955.9,1958.3,1961.3,1964.9,1967.8,1972,1975.6,1978.6,1981.6,1984,1986.4,1988.8,1991.1,1992.9,1994.7,1997.1,2000.1,2003.1,2005.5,2007.9,2010.9,2013.3,2016.3,2018.1,2019.9,2022.8,2025.2,2028.2,2030.6,2033,2036,2039,2042.6,2045.6,2048.6,2051];
const ghg10Vals = [1.3,1.39,0,-0.84,-1.21,-1.35,-1.68,-0.75,0.13,0,-0.33,-0.42,0.18,0.83,1.2,0,-0.84,-2.33,-0.94,-0.38,0,1.3,0,-0.89,-0.56,-0.14,0,0.83,1.58,0.55,0,-1.21,-0.19,0.55,0.69,0.88,0,-1.12,-1.31,-0.56,-0.89,-1.35,-0.37,0,-0.28,-0.42,0,0.23,0,-0.75,-1.86,-0.94,-0.19,0,0.18,1.11,1.48,0,-0.28,0,1.3,1.76,0.93,1.11,1.34,0.74,0.6,0.83,1.2,1.67,2.18];

// panel titles and y-axis ranges (min, max, label step)
const panelTitles = ["ERSST v5","HadISST","CESM2-SF AAER #1",
 "CESM2-SF AAER #2","CESM2-SF AAER #3","CESM2-SF AAER #4","CESM2-SF AAER #5","CESM2-SF AAER #6",
 "CESM2-SF AAER #7","CESM2-SF AAER #8","CESM2-SF AAER #9","CESM2-SF AAER #10","CESM2-SF BMB #1",
 "CESM2-SF BMB #2","CESM2-SF BMB #3","CESM2-SF BMB #4","CESM2-SF BMB #5","CESM2-SF EE #1",
 "CESM2-SF EE #2","CESM2-SF EE #3","CESM2-SF EE #4","CESM2-SF EE #5","CESM2-SF GHG #1",
 "CESM2-SF GHG #2","CESM2-SF GHG #3","CESM2-SF GHG #4","CESM2-SF GHG #5","CESM2-SF GHG #6",
 "CESM2-SF GHG #7","CESM2-SF GHG #8","CESM2-SF GHG #9","CESM2-SF GHG #10"];
const yMins = [-2,-2,-2, -3,-2,-2,-1.5,-2, -2,-3,-2,-3,-3, -2,-3,-3,-3,-2, -3,-2,-3,-3,-2, -3,-2,-2,-3,-2, -3,-2,-3,-3];
const yMaxs = [2,2,2, 3,3,3,2,2, 2,3,2,3,3, 3,2,2,2,3, 3,3,3,2,4, 3,3,2,2,3, 3,3,3,3];
const ySteps = [1,1,1, 1,1,1,0.5,1, 1,1,1,1,1, 1,1,1,1,1, 1,1,1,1,1, 1,1,1,1,1, 1,1,1,1];
const seriesYears = [ersstYears,hadYears,aaer1Years,aaer2Years,aaer3Years,aaer4Years,aaer5Years,aaer6Years,aaer7Years,aaer8Years,aaer9Years,aaer10Years,bmb1Years,bmb2Years,bmb3Years,bmb4Years,bmb5Years,ee1Years,ee2Years,ee3Years,ee4Years,ee5Years,ghg1Years,ghg2Years,ghg3Years,ghg4Years,ghg5Years,ghg6Years,ghg7Years,ghg8Years,ghg9Years,ghg10Years];
const seriesVals = [ersstVals,hadVals,aaer1Vals,aaer2Vals,aaer3Vals,aaer4Vals,aaer5Vals,aaer6Vals,aaer7Vals,aaer8Vals,aaer9Vals,aaer10Vals,bmb1Vals,bmb2Vals,bmb3Vals,bmb4Vals,bmb5Vals,ee1Vals,ee2Vals,ee3Vals,ee4Vals,ee5Vals,ghg1Vals,ghg2Vals,ghg3Vals,ghg4Vals,ghg5Vals,ghg6Vals,ghg7Vals,ghg8Vals,ghg9Vals,ghg10Vals];

// ---------- layout (not data) ----------
const BOX_W = 1308, BOX_H = 215;
function panelOrigin(i) {
  if (i === 0) return [119, 379];
  if (i === 1) return [119 + 1495, 379];
  if (i === 2) return [119 + 1495 * 4, 379];
  if (i < 28) { const k = i - 3; return [119 + 1495 * (k % 5), 379 + 380 * (1 + Math.floor(k / 5))]; }
  const k = i - 28; return [867 + 1495 * k, 379 + 380 * 6];
}

const NS = 'http://www.w3.org/2000/svg';
const svg = document.getElementById('chart');
function mk(tag, attrs, parent) {
  const e = document.createElementNS(NS, tag);
  for (const k in attrs) e.setAttribute(k, attrs[k]);
  parent.appendChild(e);
  return e;
}
function slugify(s) { return s.toLowerCase().replace(/[^a-z0-9]+/g, '-').replace(/^-|-$/g, ''); }

// monotone cubic interpolation (Fritsch-Carlson)
function monotone(xs, ys) {
  const n = xs.length, d = [], m = new Array(n);
  for (let i = 0; i < n - 1; i++) d.push((ys[i + 1] - ys[i]) / (xs[i + 1] - xs[i]));
  m[0] = d[0]; m[n - 1] = d[n - 2];
  for (let i = 1; i < n - 1; i++) m[i] = (d[i - 1] * d[i] <= 0) ? 0 : (d[i - 1] + d[i]) / 2;
  for (let i = 0; i < n - 1; i++) {
    if (d[i] === 0) { m[i] = 0; m[i + 1] = 0; continue; }
    const a = m[i] / d[i], b = m[i + 1] / d[i], s = a * a + b * b;
    if (s > 9) { const t = 3 / Math.sqrt(s); m[i] = t * a * d[i]; m[i + 1] = t * b * d[i]; }
  }
  return function (x) {
    let i = 0;
    while (i < n - 2 && x > xs[i + 1]) i++;
    const h = xs[i + 1] - xs[i], t = (x - xs[i]) / h;
    const h00 = 2*t*t*t - 3*t*t + 1, h10 = t*t*t - 2*t*t + t, h01 = -2*t*t*t + 3*t*t, h11 = t*t*t - t*t;
    return h00 * ys[i] + h10 * h * m[i] + h01 * ys[i + 1] + h11 * h * m[i + 1];
  };
}

for (let i = 0; i < panelTitles.length; i++) {
  const title = panelTitles[i];
  const slug = slugify(title);
  const obs = i < 2;
  const [left, top] = panelOrigin(i);
  const x0 = obs ? 1919.5 : 1849.5, x1 = obs ? 2015.5 : 2051;
  const ymin = yMins[i], ymax = yMaxs[i], ystep = ySteps[i];
  const xS = yr => left + (yr - x0) / (x1 - x0) * BOX_W;
  const yS = v => top + (ymax - v) / (ymax - ymin) * BOX_H;
  const bottom = top + BOX_H, right = left + BOX_W;

  const g = mk('g', {}, svg);
  
  

  let yrs = seriesYears[i], vals = seriesVals[i];
  const nn = Math.min(yrs.length, vals.length);
  const xs = [], ys = [];
  for (let k = 0; k < nn; k++) {
    if (xs.length && yrs[k] <= xs[xs.length - 1]) continue;
    xs.push(yrs[k]); ys.push(vals[k]);
  }
  const f = monotone(xs, ys);
  const step = obs ? 0.08 : 0.15;
  const z = yS(0);
  let pos = 'M' + xS(xs[0]).toFixed(1) + ',' + z.toFixed(1);
  let neg = pos;
  for (let t = xs[0]; t <= xs[xs.length - 1] + 1e-9; t += step) {
    let v = f(t);
    v = Math.max(ymin, Math.min(ymax, v));
    const px = xS(t).toFixed(1);
    pos += 'L' + px + ',' + yS(Math.max(v, 0)).toFixed(1);
    neg += 'L' + px + ',' + yS(Math.min(v, 0)).toFixed(1);
  }
  const endX = xS(xs[xs.length - 1]).toFixed(1);
  pos += 'L' + endX + ',' + z.toFixed(1) + 'Z';
  neg += 'L' + endX + ',' + z.toFixed(1) + 'Z';
  const pPos = mk('path', { d: pos, fill: '#FF8000', stroke: 'none' }, g);
  
  
  const pNeg = mk('path', { d: neg, fill: '#2A44EA', stroke: 'none' }, g);
  
  

  const zl = mk('line', { x1: left, x2: right, y1: z, y2: z, stroke: '#9a9a9a', 'stroke-width': 3 }, g);
  
  

  const fr = mk('rect', { x: left, y: top, width: BOX_W, height: BOX_H, fill: 'none', stroke: '#222', 'stroke-width': 2 }, g);
  
  

  let majY = '', minY = '';
  const nMaj = Math.round((ymax - ymin) / ystep);
  for (let k = 0; k <= nMaj; k++) {
    const v = ymin + k * ystep, py = yS(v).toFixed(1);
    majY += 'M' + (left - 25) + ',' + py + 'H' + left + 'M' + right + ',' + py + 'H' + (right + 25);
    if (k < nMaj) for (let s = 1; s < 5; s++) {
      const pm = yS(v + s * ystep / 5).toFixed(1);
      minY += 'M' + (left - 12) + ',' + pm + 'H' + left + 'M' + right + ',' + pm + 'H' + (right + 12);
    }
    const lab = mk('text', { x: left - 46, y: (yS(v) + 11).toFixed(1), 'font-size': 32, 'text-anchor': 'end' }, g);
    lab.textContent = v.toFixed(1);
    
    
  }
  let majX = '', minX = '';
  const majStart = obs ? 1920 : 1880, majEnd = obs ? 2000 : 2040, majStep = obs ? 20 : 40;
  const minStart = obs ? 1920 : 1850, minEnd = obs ? 2015 : 2050, minStep = obs ? 5 : 10;
  for (let yr = minStart; yr <= minEnd; yr += minStep) {
    const px = xS(yr).toFixed(1);
    minX += 'M' + px + ',' + (top - 12) + 'V' + top + 'M' + px + ',' + bottom + 'V' + (bottom + 12);
  }
  for (let yr = majStart; yr <= majEnd; yr += majStep) {
    const px = xS(yr).toFixed(1);
    majX += 'M' + px + ',' + (top - 25) + 'V' + top + 'M' + px + ',' + bottom + 'V' + (bottom + 25);
    const lab = mk('text', { x: px, y: bottom + 78, 'font-size': 34, 'text-anchor': 'middle' }, g);
    lab.textContent = String(yr);
    
    
  }
  const tMin = mk('path', { d: minY + minX, stroke: '#666', 'stroke-width': 2, fill: 'none' }, g);
  
  
  const tMaj = mk('path', { d: majY + majX, stroke: '#111', 'stroke-width': 2, fill: 'none' }, g);
  
  

  const tt = mk('text', { x: left + BOX_W / 2, y: top - 31, 'font-size': 46, 'text-anchor': 'middle' }, g);
  tt.textContent = title;
  
  
}
</script>
</body>
</html>
